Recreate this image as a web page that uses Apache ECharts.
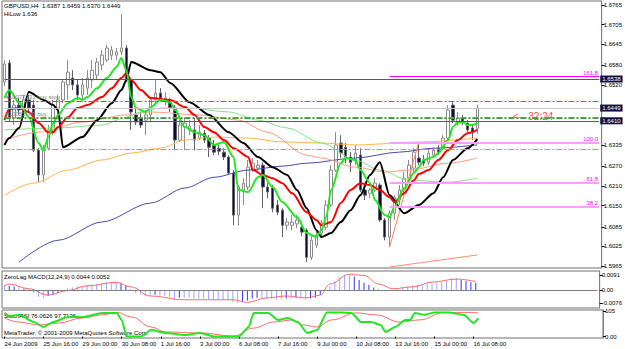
<!DOCTYPE html>
<html>
<head>
<meta charset="utf-8">
<script src="https://cdn.jsdelivr.net/npm/echarts@6/dist/echarts.min.js"></script>
<style>
html, body { margin: 0; padding: 0; background: #fff; }
#main { width: 625px; height: 349px; }
</style>
</head>
<body>
<div id="main"></div>
<script>
var FONT = 'Liberation Sans';

// time axis: one label every 8 H4 bars
var timeLabels = ['24 Jun 2009', '25 Jun 16:00', '29 Jun 00:00', '30 Jun 08:00', '1 Jul 16:00', '3 Jul 00:00',
    '6 Jul 08:00', '7 Jul 16:00', '9 Jul 00:00', '10 Jul 08:00', '13 Jul 16:00', '15 Jul 00:00', '16 Jul 08:00'];
var slotCount = 123;   // bars + empty shift on the right

var priceTicks = [1.6765, 1.6705, 1.6645, 1.6580, 1.6520, 1.6335, 1.6270, 1.6210, 1.6150, 1.6085, 1.6025, 1.5965];

// GBPUSD H4 candles [open, close, low, high]
var candles = [
    [1.6529, 1.6584, 1.6516, 1.6596], [1.6587, 1.6418, 1.6406, 1.6596], [1.6418, 1.6458, 1.6397, 1.6474],
    [1.6458, 1.6443, 1.6428, 1.6480], [1.6437, 1.6474, 1.6418, 1.6489], [1.6474, 1.6449, 1.6437, 1.6489],
    [1.6458, 1.6320, 1.6314, 1.6474], [1.6320, 1.6244, 1.6222, 1.6326], [1.6244, 1.6326, 1.6222, 1.6336],
    [1.6326, 1.6382, 1.6320, 1.6397], [1.6382, 1.6458, 1.6366, 1.6474], [1.6449, 1.6474, 1.6428, 1.6489],
    [1.6474, 1.6529, 1.6464, 1.6535], [1.6520, 1.6559, 1.6474, 1.6596], [1.6541, 1.6520, 1.6504, 1.6565],
    [1.6520, 1.6489, 1.6474, 1.6535], [1.6489, 1.6520, 1.6474, 1.6541], [1.6510, 1.6541, 1.6489, 1.6565],
    [1.6535, 1.6565, 1.6510, 1.6596], [1.6550, 1.6590, 1.6535, 1.6602], [1.6581, 1.6611, 1.6565, 1.6627],
    [1.6596, 1.6633, 1.6590, 1.6642], [1.6611, 1.6627, 1.6596, 1.6639], [1.6611, 1.6621, 1.6596, 1.6633],
    [1.6621, 1.6633, 1.6611, 1.6737], [1.6633, 1.6535, 1.6529, 1.6642], [1.6535, 1.6437, 1.6382, 1.6541],
    [1.6428, 1.6406, 1.6397, 1.6449], [1.6418, 1.6397, 1.6388, 1.6437], [1.6412, 1.6428, 1.6366, 1.6443],
    [1.6428, 1.6474, 1.6406, 1.6483], [1.6474, 1.6495, 1.6458, 1.6535], [1.6495, 1.6480, 1.6474, 1.6510],
    [1.6474, 1.6480, 1.6458, 1.6498], [1.6467, 1.6449, 1.6437, 1.6480], [1.6449, 1.6351, 1.6320, 1.6458],
    [1.6351, 1.6397, 1.6345, 1.6412], [1.6391, 1.6403, 1.6320, 1.6418], [1.6382, 1.6394, 1.6366, 1.6412],
    [1.6382, 1.6351, 1.6320, 1.6418], [1.6357, 1.6375, 1.6351, 1.6397], [1.6372, 1.6351, 1.6342, 1.6382],
    [1.6357, 1.6329, 1.6299, 1.6366], [1.6336, 1.6314, 1.6305, 1.6351], [1.6326, 1.6317, 1.6305, 1.6336],
    [1.6314, 1.6299, 1.6290, 1.6326], [1.6299, 1.6250, 1.6244, 1.6305], [1.6250, 1.6121, 1.6090, 1.6259],
    [1.6121, 1.6207, 1.6090, 1.6213], [1.6198, 1.6219, 1.6152, 1.6234], [1.6207, 1.6268, 1.6198, 1.6290],
    [1.6259, 1.6280, 1.6253, 1.6296], [1.6265, 1.6274, 1.6253, 1.6290], [1.6274, 1.6207, 1.6142, 1.6283],
    [1.6207, 1.6192, 1.6173, 1.6219], [1.6204, 1.6142, 1.6130, 1.6213], [1.6152, 1.6130, 1.6121, 1.6167],
    [1.6136, 1.6090, 1.6054, 1.6142], [1.6090, 1.6100, 1.6075, 1.6112], [1.6090, 1.6100, 1.6075, 1.6121],
    [1.6094, 1.6106, 1.6081, 1.6121], [1.6084, 1.6069, 1.6057, 1.6100], [1.6075, 1.5992, 1.5977, 1.6081],
    [1.5992, 1.6044, 1.5983, 1.6060], [1.6029, 1.6060, 1.6020, 1.6075], [1.6066, 1.6097, 1.6057, 1.6106],
    [1.6084, 1.6152, 1.6075, 1.6167], [1.6152, 1.6259, 1.6146, 1.6274], [1.6259, 1.6336, 1.6253, 1.6375],
    [1.6342, 1.6311, 1.6296, 1.6366], [1.6329, 1.6299, 1.6280, 1.6342], [1.6299, 1.6283, 1.6253, 1.6314],
    [1.6290, 1.6311, 1.6274, 1.6336], [1.6305, 1.6198, 1.6192, 1.6326], [1.6198, 1.6182, 1.6167, 1.6213],
    [1.6188, 1.6198, 1.6173, 1.6204], [1.6198, 1.6219, 1.6192, 1.6234], [1.6213, 1.6106, 1.6100, 1.6219],
    [1.6106, 1.6054, 1.6044, 1.6112], [1.6054, 1.6127, 1.6023, 1.6136], [1.6127, 1.6176, 1.6106, 1.6182],
    [1.6167, 1.6198, 1.6152, 1.6213], [1.6198, 1.6234, 1.6182, 1.6253], [1.6234, 1.6274, 1.6222, 1.6290],
    [1.6265, 1.6314, 1.6253, 1.6326], [1.6296, 1.6283, 1.6274, 1.6345], [1.6290, 1.6280, 1.6271, 1.6305],
    [1.6283, 1.6311, 1.6274, 1.6320], [1.6305, 1.6320, 1.6296, 1.6329], [1.6326, 1.6314, 1.6305, 1.6336],
    [1.6326, 1.6357, 1.6320, 1.6366], [1.6357, 1.6443, 1.6351, 1.6458], [1.6458, 1.6412, 1.6403, 1.6467],
    [1.6403, 1.6418, 1.6394, 1.6437], [1.6418, 1.6406, 1.6397, 1.6428], [1.6403, 1.6382, 1.6375, 1.6412],
    [1.6388, 1.6375, 1.6351, 1.6397], [1.6387, 1.6449, 1.6370, 1.6459]
];

// moving-average style lines, read as [bar, price]
var fastLine = [[0, 1.6480], [1, 1.6504], [3, 1.6467], [5, 1.6421], [7, 1.6342], [8, 1.6320], [9, 1.6360], [10, 1.6403],
    [11, 1.6428], [13, 1.6464], [15, 1.6480], [16, 1.6474], [17, 1.6483], [19, 1.6510], [21, 1.6541], [23, 1.6575],
    [24, 1.6602], [25, 1.6565], [26, 1.6483], [27, 1.6449], [29, 1.6437], [30, 1.6452], [32, 1.6474], [34, 1.6467],
    [35, 1.6443], [37, 1.6391], [39, 1.6375], [41, 1.6366], [43, 1.6336], [45, 1.6345], [47, 1.6299], [48, 1.6198],
    [50, 1.6192], [52, 1.6237], [53, 1.6244], [55, 1.6207], [57, 1.6161], [60, 1.6115], [62, 1.6066], [64, 1.6054],
    [65, 1.6075], [66, 1.6115], [67, 1.6198], [69, 1.6280], [70, 1.6296], [72, 1.6290], [73, 1.6259], [75, 1.6219],
    [76, 1.6167], [78, 1.6121], [79, 1.6115], [80, 1.6146], [82, 1.6204], [84, 1.6250], [85, 1.6268], [86, 1.6290],
    [88, 1.6299], [89, 1.6311], [91, 1.6351], [92, 1.6391], [93, 1.6406], [94, 1.6406], [95, 1.6397], [96, 1.6397],
    [97, 1.6403]];
var midLine = [[0, 1.6412], [1, 1.6446], [3, 1.6449], [5, 1.6437], [7, 1.6403], [9, 1.6375], [10, 1.6375], [11, 1.6391],
    [13, 1.6421], [15, 1.6449], [17, 1.6458], [20, 1.6483], [22, 1.6510], [24, 1.6541], [25, 1.6556], [26, 1.6535],
    [28, 1.6504], [30, 1.6480], [34, 1.6474], [37, 1.6452], [39, 1.6428], [41, 1.6391], [43, 1.6375], [45, 1.6351],
    [47, 1.6326], [50, 1.6299], [51, 1.6259], [53, 1.6244], [55, 1.6234], [57, 1.6219], [59, 1.6188], [62, 1.6130],
    [64, 1.6106], [65, 1.6090], [67, 1.6100], [69, 1.6158], [71, 1.6198], [73, 1.6219], [75, 1.6213], [77, 1.6198],
    [79, 1.6176], [80, 1.6161], [82, 1.6188], [84, 1.6228], [85, 1.6247], [87, 1.6259], [89, 1.6290], [91, 1.6320],
    [93, 1.6351], [95, 1.6372], [97, 1.6382]];
var slowLine = [[0, 1.6336], [1, 1.6357], [3, 1.6388], [5, 1.6498], [8, 1.6474], [10, 1.6458], [11, 1.6443], [12, 1.6329],
    [16, 1.6360], [19, 1.6412], [22, 1.6464], [24, 1.6504], [25, 1.6535], [26, 1.6590], [30, 1.6565], [32, 1.6559],
    [34, 1.6526], [38, 1.6467], [42, 1.6428], [46, 1.6375], [49, 1.6342], [52, 1.6299], [55, 1.6268], [58, 1.6244],
    [60, 1.6198], [62, 1.6142], [64, 1.6075], [65, 1.6054], [67, 1.6066], [69, 1.6100], [71, 1.6136], [73, 1.6182],
    [75, 1.6244], [77, 1.6283], [79, 1.6182], [82, 1.6127], [85, 1.6152], [88, 1.6188], [90, 1.6237], [92, 1.6290],
    [95, 1.6326], [97, 1.6354]];
var lightGreenLine = [[0, 1.6382], [11, 1.6388], [20, 1.6397], [25, 1.6421], [28, 1.6437], [32, 1.6449], [38, 1.6449],
    [46, 1.6437], [52, 1.6412], [58, 1.6388], [65, 1.6342], [72, 1.6290], [77, 1.6259], [83, 1.6228], [91, 1.6222], [97, 1.6234]];
var salmonLine = [[0, 1.6351], [7, 1.6375], [16, 1.6406], [25, 1.6428], [30, 1.6437], [40, 1.6428], [48, 1.6412],
    [54, 1.6375], [62, 1.6305], [65, 1.6296], [72, 1.6268], [78, 1.6253], [83, 1.6259], [91, 1.6280], [97, 1.6296]];
var orangeLine = [[0, 1.6182], [6, 1.6219], [13, 1.6259], [20, 1.6290], [26, 1.6311], [32, 1.6326], [37, 1.6351],
    [43, 1.6360], [50, 1.6357], [57, 1.6345], [65, 1.6342], [72, 1.6336], [85, 1.6345], [97, 1.6357]];
var blueLine = [[3, 1.5977], [11, 1.6044], [20, 1.6100], [30, 1.6158], [37, 1.6204], [43, 1.6237], [50, 1.6259],
    [57, 1.6271], [62, 1.6280], [72, 1.6296], [81, 1.6314], [88, 1.6326], [97, 1.6336]];
var swingLine = [[79, 1.6023], [85, 1.6345]];
var lowChannel = [[79, 1.5962], [97, 1.5999]];

// horizontal levels
var levelHigh = 1.6538, levelBid = 1.6449, levelLow = 1.6410;
var buyStop = 1.6470, buyOpen = 1.6418, redStop = 1.6421, orangeLevel = 1.6324;
var fibNames = ['161.8', '100.0', '61.8', '38.2'];
var fibValues = [1.6545, 1.6342, 1.6219, 1.6146];
var fibStart = 79;

// ZeroLag MACD histogram and signal
var macdHist = [0.0033, 0.0027, 0.0022, 0.0022, 0.0011, 0.0005, -0.0016, -0.0038, -0.0044, -0.0033,
    -0.0027, -0.0016, -0.0005, 0.0011, 0.0016, 0.0022, 0.0022, 0.0027, 0.0033, 0.0038,
    0.0044, 0.0049, 0.0049, 0.0049, 0.0044, 0.0027, 0.0005, -0.0016, -0.0027, -0.0033,
    -0.0033, -0.0027, -0.0033, -0.0033, -0.0038, -0.0049, -0.0044, -0.0044, -0.0044, -0.0049,
    -0.0049, -0.0049, -0.0055, -0.0055, -0.0055, -0.0055, -0.0060, -0.0071, -0.0076, -0.0071,
    -0.0060, -0.0049, -0.0044, -0.0049, -0.0049, -0.0049, -0.0055, -0.0055, -0.0049, -0.0049,
    -0.0044, -0.0049, -0.0055, -0.0049, -0.0044, -0.0027, -0.0005, 0.0027, 0.0055, 0.0076,
    0.0087, 0.0091, 0.0082, 0.0060, 0.0044, 0.0033, 0.0016, 0.0005, 0.0000, -0.0005,
    0.0000, 0.0005, 0.0016, 0.0022, 0.0027, 0.0033, 0.0033, 0.0038, 0.0038, 0.0044,
    0.0049, 0.0060, 0.0071, 0.0071, 0.0060, 0.0055, 0.0049, 0.0044];
var macdSignal = [[0, 0.0026], [1, 0.0037], [5, 0.0009], [9, -0.0029], [13, -0.0002], [17, 0.0026], [23, 0.0047],
    [26, 0.0020], [30, -0.0034], [37, -0.0056], [47, -0.0056], [50, -0.0072], [54, -0.0045], [58, -0.0034],
    [62, -0.0045], [65, -0.0029], [67, 0.0037], [71, 0.0095], [74, 0.0088], [77, 0.0037], [80, 0.0009],
    [84, 0.0020], [88, 0.0048], [93, 0.0066], [97, 0.0052]];

// StochRSI
var stochMain = [[0, 98], [1, 85], [3, 90], [6, 60], [8, 40], [10, 60], [13, 81], [16, 81], [20, 98], [23, 98],
    [24, 69], [25, 0], [28, 0], [30, 27], [33, 15], [37, 6], [40, 15], [43, 0], [48, 0], [50, 40], [51, 98],
    [54, 98], [56, 69], [58, 77], [60, 60], [62, 15], [64, 27], [66, 100], [69, 100], [71, 98], [73, 60],
    [75, 60], [77, 48], [78, 19], [80, 40], [82, 69], [83, 69], [84, 98], [86, 90], [88, 100], [91, 100],
    [94, 90], [96, 56], [97, 76]];
var stochSignal = [[0, 77], [3, 60], [7, 48], [11, 56], [16, 77], [20, 90], [23, 100], [26, 81], [30, 40],
    [33, 19], [40, 15], [47, 2], [51, 35], [55, 60], [59, 69], [61, 48], [64, 40], [67, 69], [72, 98],
    [76, 90], [81, 60], [85, 69], [90, 100], [95, 100], [97, 98]];

var cats = [];
for (var i = 0; i < slotCount; i++) cats.push(String(i));
var lastSlot = slotCount - 1;

function labelTick(idx) {
    return idx % 8 === 0 && idx / 8 < timeLabels.length;
}

function xAxisFor(grid, show) {
    return {
        type: 'category', gridIndex: grid, data: cats, boundaryGap: true,
        axisLine: {show: false},
        axisTick: {show: show, alignWithLabel: true, interval: labelTick, length: 2, lineStyle: {color: '#000'}},
        axisLabel: {
            show: show, interval: labelTick, align: 'left', margin: 3,
            fontSize: 6, fontFamily: FONT, color: '#000',
            formatter: function (v, idx) { return timeLabels[idx / 8]; }
        },
        splitLine: {show: false}
    };
}

function yAxisFor(grid, min, max, ticks, fmt) {
    return {
        type: 'value', gridIndex: grid, position: 'right', min: min, max: max,
        axisLine: {show: true, lineStyle: {color: '#808080'}},
        axisTick: {show: true, length: 3, customValues: ticks, lineStyle: {color: '#000'}},
        axisLabel: {customValues: ticks, formatter: fmt, margin: 2, fontSize: 6, fontFamily: FONT, color: '#000'},
        splitLine: {show: false}
    };
}

function priceBox(text) {
    return {
        show: true, position: 'end', distance: 1, formatter: text,
        color: '#fff', backgroundColor: '#10103c', padding: [1, 2, 0, 2],
        fontSize: 6, fontFamily: FONT
    };
}

function noteLabel(text) {
    return {show: true, position: 'insideStartTop', distance: 1, formatter: text,
        color: '#808080', fontSize: 6, fontFamily: FONT};
}

// horizontal line across the whole price pane
function level(value, color, width, type, label) {
    return [
        {coord: [0, value], lineStyle: {color: color, width: width, type: type}, label: label || {show: false}},
        {coord: [lastSlot, value]}
    ];
}

function thinLine(name, data, color, width, smooth) {
    return {
        name: name, type: 'line', data: data, symbol: 'none', smooth: smooth,
        smoothMonotone: 'x', silent: true,
        lineStyle: {color: color, width: width}
    };
}

var dashDot = [6, 2, 2, 2];

var levelLines = [
    level(levelHigh, '#5a5a5a', 1, 'solid', priceBox('1.6538')),
    level(levelBid, '#c8c8c8', 1, 'solid', priceBox('1.6449')),
    level(levelLow, '#5a5a5a', 1, 'solid', priceBox('1.6410')),
    level(buyStop, '#3c963c', 1, dashDot, noteLabel('#10077731 buy stop')),
    level(redStop, '#ff5a3c', 1, dashDot),
    level(buyOpen, '#3c963c', 1, dashDot, noteLabel('#10081049 buy')),
    level(orangeLevel, '#ff7a5a', 1, dashDot)
];
for (var f = 0; f < fibValues.length; f++) {
    levelLines.push([
        {coord: [fibStart, fibValues[f]],
            lineStyle: {color: f === 0 ? '#ff00ff' : '#ff9cff', width: f === 0 ? 1 : 2, type: 'solid'},
            label: {show: true, position: 'insideEndTop', distance: 1, formatter: fibNames[f],
                color: '#ff00ff', fontSize: 6, fontFamily: FONT}},
        {coord: [lastSlot, fibValues[f]]}
    ]);
}

var chart = echarts.init(document.getElementById('main'), null, {renderer: 'svg'});

chart.setOption({
    backgroundColor: '#ffffff',
    animation: false,
    textStyle: {fontFamily: FONT},
    grid: [
        {left: 2, right: 22, top: 1, height: 267, show: true, borderColor: '#707070', borderWidth: 1, backgroundColor: '#fff'},
        {left: 2, right: 22, top: 271, height: 37, show: true, borderColor: '#707070', borderWidth: 1, backgroundColor: '#fff'},
        {left: 2, right: 22, top: 310, height: 28, show: true, borderColor: '#707070', borderWidth: 1, backgroundColor: '#fff'}
    ],
    xAxis: [xAxisFor(0, false), xAxisFor(1, false), xAxisFor(2, true)],
    yAxis: [
        yAxisFor(0, 1.5959, 1.6777, priceTicks, function (v) { return v.toFixed(4); }),
        yAxisFor(1, -0.0105, 0.0114, [0.0091, 0, -0.0076], function (v) { return v === 0 ? '0.00' : v.toFixed(4); }),
        yAxisFor(2, -6, 110, [105, 0], function (v) { return v === 0 ? '0.00' : String(v); })
    ],
    series: [
        thinLine('blue', blueLine, '#4a4aa6', 1, 0.3),
        thinLine('orange', orangeLine, '#ffb44c', 1, 0.3),
        thinLine('salmon', salmonLine, '#ff9c80', 1, 0.3),
        thinLine('lightgreen', lightGreenLine, '#86e086', 1, 0.3),
        thinLine('channel', lowChannel, '#ff8c6c', 1, false),
        {
            name: 'GBPUSD', type: 'candlestick', data: candles, barWidth: 3, silent: true,
            itemStyle: {color: '#ffffff', color0: '#0c0c34', borderColor: '#8c8c8c', borderColor0: '#60606c', borderWidth: 1},
            markLine: {silent: true, symbol: ['none', 'none'], data: levelLines, animation: false}
        },
        {
            name: 'swing', type: 'line', data: swingLine, symbol: 'rect', symbolSize: 4, silent: true,
            lineStyle: {color: '#ff8060', width: 1},
            itemStyle: {color: '#fff', borderColor: '#ff6040', borderWidth: 1}
        },
        thinLine('slow', slowLine, '#000000', 2, 0.25),
        thinLine('mid', midLine, '#ff0000', 2, 0.3),
        thinLine('fast', fastLine, '#1fe81f', 2, 0.3),
        {
            name: 'MACD', type: 'bar', xAxisIndex: 1, yAxisIndex: 1, data: macdHist, barWidth: 1, silent: true,
            itemStyle: {
                color: function (p) {
                    var prev = p.dataIndex > 0 ? macdHist[p.dataIndex - 1] : 0;
                    return Math.abs(p.value) >= Math.abs(prev) ? '#a4a4ff' : '#3434f0';
                }
            },
            markLine: {silent: true, symbol: ['none', 'none'], label: {show: false},
                data: [[{coord: [0, 0], lineStyle: {color: '#808080', width: 1, type: 'solid'}}, {coord: [lastSlot, 0]}]]}
        },
        {
            name: 'Signal', type: 'line', xAxisIndex: 1, yAxisIndex: 1, data: macdSignal, symbol: 'none',
            smooth: 0.4, smoothMonotone: 'x', silent: true, lineStyle: {color: '#ff6a6a', width: 1}
        },
        {
            name: 'StochSignal', type: 'line', xAxisIndex: 2, yAxisIndex: 2, data: stochSignal, symbol: 'none',
            smooth: 0.4, smoothMonotone: 'x', silent: true, lineStyle: {color: '#ff6a6a', width: 1}
        },
        {
            name: 'StochRSI', type: 'line', xAxisIndex: 2, yAxisIndex: 2, data: stochMain, symbol: 'none',
            smooth: 0.2, smoothMonotone: 'x', silent: true, lineStyle: {color: '#22e622', width: 2}
        }
    ],
    graphic: [
        {type: 'text', left: 4, top: 3, silent: true,
            style: {text: 'GBPUSD,H4  1.6387 1.6459 1.6370 1.6449', fontSize: 6, fontFamily: FONT, fill: '#000'}},
        {type: 'text', left: 4, top: 11, silent: true,
            style: {text: 'HiLow 1.636', fontSize: 6, fontFamily: FONT, fill: '#000'}},
        {type: 'text', left: 513, top: 111, silent: true,
            style: {text: '<-- 32:24', fontSize: 10, fontFamily: FONT, fill: '#ff4a4a'}},
        {type: 'text', left: 4, top: 274, silent: true,
            style: {text: 'ZeroLag MACD(12,24,9) 0.0044 0.0052', fontSize: 6, fontFamily: FONT, fill: '#000'}},
        {type: 'text', left: 4, top: 313, silent: true,
            style: {text: 'StochRSI 76.0626 97.7136', fontSize: 6, fontFamily: FONT, fill: '#000'}},
        {type: 'text', left: 4, top: 330, silent: true,
            style: {text: 'MetaTrader, \u00a9 2001-2009 MetaQuotes Software Corp.', fontSize: 6, fontFamily: FONT, fill: '#000'}}
    ]
});
</script>
</body>
</html>
